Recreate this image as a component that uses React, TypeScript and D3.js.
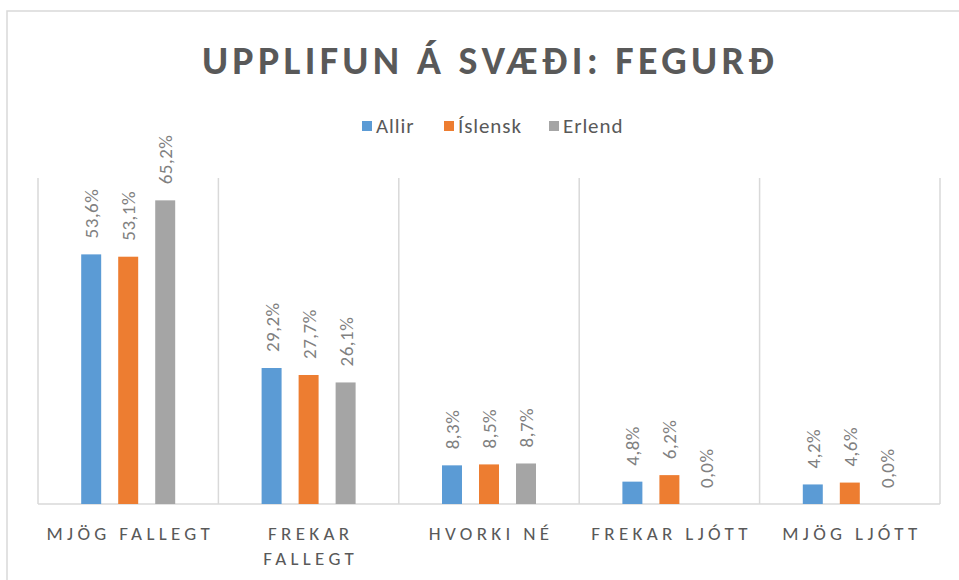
import React from "react";
import * as d3 from "d3";

const categories = ["MJÖG FALLEGT", "FREKAR\nFALLEGT", "HVORKI NÉ", "FREKAR LJÓTT", "MJÖG LJÓTT"];
const seriesNames = ["Allir", "Íslensk", "Erlend"];
const allir = [53.6, 29.2, 8.3, 4.8, 4.2];
const islensk = [53.1, 27.7, 8.5, 6.2, 4.6];
const erlend = [65.2, 26.1, 8.7, 0.0, 0.0];
const colors = ["#5b9bd5", "#ed7d31", "#a5a5a5"];
const title = "UPPLIFUN Á SVÆÐI: FEGURÐ";

const W = 959;
const H = 580;
const plot = { left: 38, right: 940, top: 178, bottom: 504 };
const FONT = "Calibri, Carlito, 'Open Sans', 'Liberation Sans', sans-serif";

export default function App() {
  const series = [allir, islensk, erlend];
  const x0 = d3.scaleBand<number>().domain(d3.range(categories.length)).range([plot.left, plot.right]).paddingInner(0).paddingOuter(0);
  const groupW = 94;
  const x1 = d3.scaleBand<number>().domain([0, 1, 2]).range([0, groupW]).paddingInner(0.46).paddingOuter(0);
  const y = d3.scaleLinear().domain([0, 70]).range([plot.bottom, plot.top]);
  const gridColor = "#d9d9d9";

  return (
    <svg width={W} height={H} style={{ position: "absolute", left: 0, top: 0, background: "#fff" }}>
      <rect x={7} y={11} width={W + 10} height={H + 10} fill="#fff" stroke="#d9d9d9" strokeWidth={1.5} />
      <text x={490} y={74} textAnchor="middle" fontFamily={FONT} fontWeight="bold" fontSize={40} letterSpacing={4.3} fill="#595959">
        {title}
      </text>
      {/* legend */}
      {(() => {
        const items = [
          { x: 362, name: seriesNames[0] },
          { x: 444, name: seriesNames[1] },
          { x: 549, name: seriesNames[2] },
        ];
        return items.map((it, i) => (
          <g key={i}>
            <rect x={it.x} y={121} width={10} height={10} fill={colors[i]} />
            <text x={it.x + 14} y={133} fontFamily={FONT} fontSize={21} letterSpacing={0.9} fill="#595959">{it.name}</text>
          </g>
        ));
      })()}
      {/* vertical gridlines */}
      {d3.range(categories.length + 1).map((i) => {
        const gx = i < categories.length ? (x0(i) as number) : plot.right;
        return <line key={i} x1={gx} x2={gx} y1={plot.top} y2={plot.bottom} stroke={gridColor} strokeWidth={1.5} />;
      })}
      <line x1={plot.left} x2={plot.right} y1={plot.bottom} y2={plot.bottom} stroke={gridColor} strokeWidth={1.5} />
      {/* bars */}
      {categories.map((_, ci) => {
        const gx = (x0(ci) as number) + (x0.bandwidth() - groupW) / 2;
        return series.map((s, si) => {
          const bx = gx + (x1(si) as number);
          const bw = x1.bandwidth();
          const v = s[ci];
          const by = y(v);
          const cx = bx + bw / 2;
          const ly = by - 16;
          return (
            <g key={`${ci}-${si}`}>
              {v > 0 && <rect x={bx} y={by} width={bw} height={plot.bottom - by} fill={colors[si]} />}
              <text
                transform={`translate(${cx + 7},${ly}) rotate(-90)`}
                fontFamily={FONT}
                fontSize={19}
                letterSpacing={0.5}
                fill="#808080"
                textAnchor="start"
              >
                {v.toFixed(1).replace(".", ",") + "%"}
              </text>
            </g>
          );
        });
      })}
      {/* category labels */}
      {categories.map((c, ci) => {
        const cx = (x0(ci) as number) + x0.bandwidth() / 2;
        const lines = c.split("\n");
        return (
          <text key={ci} textAnchor="middle" fontFamily={FONT} fontSize={19} letterSpacing={4.3} fill="#595959">
            {lines.map((ln, li) => (
              <tspan key={li} x={cx + 2.1} y={540 + li * 25}>{ln}</tspan>
            ))}
          </text>
        );
      })}
    </svg>
  );
}
